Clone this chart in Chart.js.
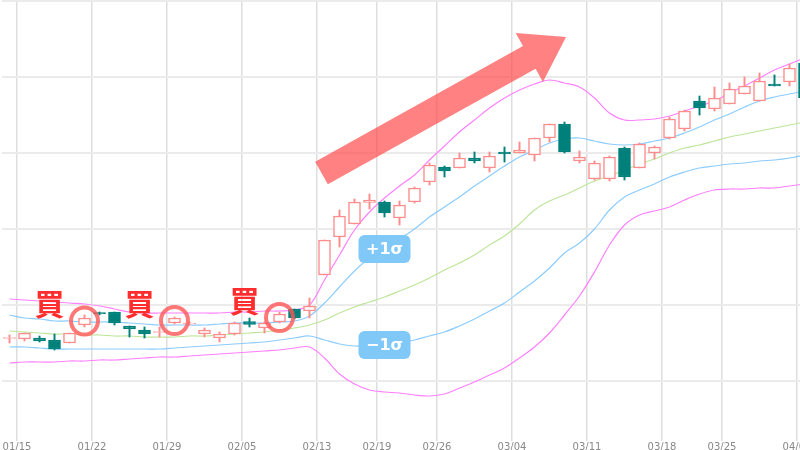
<!DOCTYPE html>
<html lang="ja">
<head>
<meta charset="UTF-8" />
<title>ボリンジャーバンド 買いシグナル</title>
<script src="https://cdn.jsdelivr.net/npm/chart.js@4.4.1/dist/chart.umd.min.js"></script>
<style>
  *{margin:0;padding:0;box-sizing:border-box;}
  html,body{width:800px;height:450px;overflow:hidden;background:#fff;}
  canvas{display:block;}
</style>
</head>
<body>
<canvas id="chart" width="812" height="453"></canvas>
<script>
/* ---- 日付（営業日） ---- */
const dates=['01/12',
  '01/15','01/16','01/17','01/18','01/19',
  '01/22','01/23','01/24','01/25','01/26',
  '01/29','01/30','01/31','02/01','02/02',
  '02/05','02/06','02/07','02/08','02/09',
  '02/13','02/14','02/15','02/16',
  '02/19','02/20','02/21','02/22',
  '02/26','02/27','02/28','02/29','03/01',
  '03/04','03/05','03/06','03/07','03/08',
  '03/11','03/12','03/13','03/14','03/15',
  '03/18','03/19','03/21','03/22',
  '03/25','03/26','03/27','03/28','03/29',
  '04/01'];
const tickDates=['01/15','01/22','01/29','02/05','02/13','02/19','02/26','03/04','03/11','03/18','03/25','04/01'];

/* ---- ローソク足 ---- */
const opens =[118.5,118,119,117,114,132,144.5,145,131,127, 124.5,134,133,123,119,123,135.5,129,135,148,
  146,182,220,233,254.5,255,239,255,275,290, 289,299,289,305,304,302,319,333,296,278,
  278,309,289,304,319,328,356,348,353,363, 356,373,375,394];
const highs =[122,124,121,123,124,142,145,145,131,130, 130,140,135,129,125,135,139,135,145,148,
  159,217,247,258,263,256,256,270,294,291, 304,305,305,310,315,319,333,335,306,296,
  301,310,314,311,340,347,361,370,374,380, 384,382,393,397];
const lows  =[114,116,115,107,114,130,142,132,120,119, 120,133,132,120,115,122,130,124,134,138,
  139,182,210,233,248,240,232,254,272,280, 289,294,285,295,304,296,315,304,294,277,
  276,277,289,298,318,326,342,346,353,363, 356,371,371,359];
const closes=[119.5,124,116,108,124,139,143,134,128,123, 125.5,139,134,127,123,134,132.5,134,143,139,
  151,217,241,255,257,244,252,269,292,286, 299,296,301,303,307,319,333,305,300,294,
  300,280,313,310,338,346,349,359,368,371, 376,371,389,359];

/* ---- ボリンジャーバンド ---- */
const upper2=[158,157,156,155,154,153,151,148,145,144, 144,144,144,144,144,145,145,146,146,147,
  152,177,202,227,245,259,271,282,297,311, 325,337,349,359,367,373,377,374,370,359,
  344,337,337,338,341,346,351,356,364,371, 379,387,393,399];
const upper1=[142,139,138,136,136,135,135,135,134,133, 132,132,132,132,133,134,134,134,135,136,
  141,154,170,186,199,208,218,228,240,250, 260,271,281,291,300,307,314,318,319,316,
  313,312,313,316,319,324,330,337,343,350, 356,360,363,366];
const middle=[126,125,124,123,123,122,122,121,121,120, 120,120,121,121,122,123,124,125,127,129,
  132,137,144,150,155,160,166,172,179,187, 194,202,212,221,233,247,256,262,269,276,
  281,287,293,298,304,309,312,316,320,323, 326,329,332,335];
const lower1=[110,110,109,108,108,108,108,108,108,108, 108,109,110,111,112,113,114,115,117,119,
  121,117,113,111,111,112,114,117,121,125, 131,138,146,154,165,176,189,204,214,228,
  247,260,267,273,280,285,289,291,293,294, 296,297,299,302];
const lower2=[94,95,95,95,96,96,97,97,98,99, 100,100,101,102,103,104,105,106,107,109,
  110,99,83,73,67,65,64,62,61,63, 69,75,82,89,99,110,124,142,161,185,
  212,232,242,246,250,257,263,267,268,268, 269,269,271,273];

/* ---- 注釈 ---- */
const buyIdx=[5,11,18];
const arrowTail=[20.8,284];
const arrowTip=[37.1,420];
const sigmaIdx=25;

const UP='#ff8c8c', DOWN='#00807b';
const isUp=closes.map((c,i)=>c>=opens[i]);

const lineDs=(data,color)=>({type:'line',data,borderColor:color,borderWidth:1.2,
  pointRadius:0,tension:0.35,fill:false,order:3});

const annot={
  id:'annot',
  afterDatasetsDraw(chart){
    const {ctx,scales:{x,y}}=chart;
    ctx.save();
    /* 矢印 */
    const tx=x.getPixelForValue(arrowTail[0]), ty=y.getPixelForValue(arrowTail[1]);
    const hx=x.getPixelForValue(arrowTip[0]), hy=y.getPixelForValue(arrowTip[1]);
    const len=Math.hypot(hx-tx,hy-ty), ux=(hx-tx)/len, uy=(hy-ty)/len, nx=-uy, ny=ux;
    const sw=13, hw=28, hl=42;
    const bx=hx-ux*hl, by=hy-uy*hl;
    ctx.beginPath();
    ctx.moveTo(tx+nx*sw,ty+ny*sw);
    ctx.lineTo(bx+nx*sw,by+ny*sw);
    ctx.lineTo(bx+nx*hw,by+ny*hw);
    ctx.lineTo(hx,hy);
    ctx.lineTo(bx-nx*hw,by-ny*hw);
    ctx.lineTo(bx-nx*sw,by-ny*sw);
    ctx.lineTo(tx-nx*sw,ty-ny*sw);
    ctx.closePath();
    ctx.fillStyle='rgba(255,70,70,0.68)';
    ctx.fill();

    /* 買いシグナル */
    buyIdx.forEach(i=>{
      const cx=x.getPixelForValue(i), cy=y.getPixelForValue((highs[i]+lows[i])/2);
      ctx.beginPath();
      ctx.arc(cx,cy,13.5,0,Math.PI*2);
      ctx.lineWidth=4;
      ctx.strokeStyle='rgba(255,85,85,0.8)';
      ctx.stroke();
      ctx.fillStyle='#ff2d2d';
      ctx.font='bold 30px "Noto Sans CJK JP"';
      ctx.textAlign='center';
      ctx.textBaseline='middle';
      ctx.fillText('買',cx-35,cy-17);
    });

    /* σラベル */
    [['+1σ',upper1[sigmaIdx]],['−1σ',lower1[sigmaIdx]]].forEach(([t,v])=>{
      const cx=x.getPixelForValue(sigmaIdx), cy=y.getPixelForValue(v);
      ctx.beginPath();
      ctx.roundRect(cx-26,cy-14,52,28,6);
      ctx.fillStyle='#7fc8f8';
      ctx.fill();
      ctx.fillStyle='#fff';
      ctx.font='bold 16px "DejaVu Sans"';
      ctx.textAlign='center';
      ctx.textBaseline='middle';
      ctx.fillText(t,cx,cy+1);
    });
    ctx.restore();
  }
};

const isTick=i=>tickDates.includes(dates[i]);

new Chart(document.getElementById('chart'),{
  type:'bar',
  data:{
    labels:dates,
    datasets:[
      {data:opens.map((o,i)=>[o,closes[i]]),grouped:false,order:0,
       backgroundColor:isUp.map(u=>u?'#fff':DOWN),borderColor:isUp.map(u=>u?UP:DOWN),
       borderWidth:1.5,borderSkipped:false,barThickness:12},
      {data:lows.map((l,i)=>[l,highs[i]]),grouped:false,order:1,
       backgroundColor:isUp.map(u=>u?UP:DOWN),borderWidth:0,barThickness:1.3},
      lineDs(upper2,'#ff80ff'),
      lineDs(upper1,'#8cccff'),
      lineDs(middle,'#bde59a'),
      lineDs(lower1,'#8cccff'),
      lineDs(lower2,'#ff80ff')
    ]
  },
  options:{
    responsive:false,
    animation:false,
    layout:{padding:{left:2,top:1,right:0,bottom:0}},
    plugins:{legend:{display:false},tooltip:{enabled:false}},
    scales:{
      x:{
        offset:true,
        grid:{offset:true,lineWidth:1.5,tickLength:8,
          color:c=>isTick(c.index)?'#dedede':'rgba(0,0,0,0)'},
        border:{display:false},
        ticks:{autoSkip:false,maxRotation:0,padding:0,labelOffset:-7.5,color:'#888',
          font:{family:'DejaVu Sans',size:10},
          callback(v,i){return isTick(i)?dates[i]:'';}},
        afterFit(s){s.paddingLeft=0;s.paddingRight=0;}
      },
      y:{
        min:24,max:456,
        grid:{color:'#ebebeb',lineWidth:2,drawTicks:false},
        border:{display:false},
        ticks:{display:false,stepSize:76,includeBounds:false}
      }
    }
  },
  plugins:[annot]
});
</script>
</body>
</html>
